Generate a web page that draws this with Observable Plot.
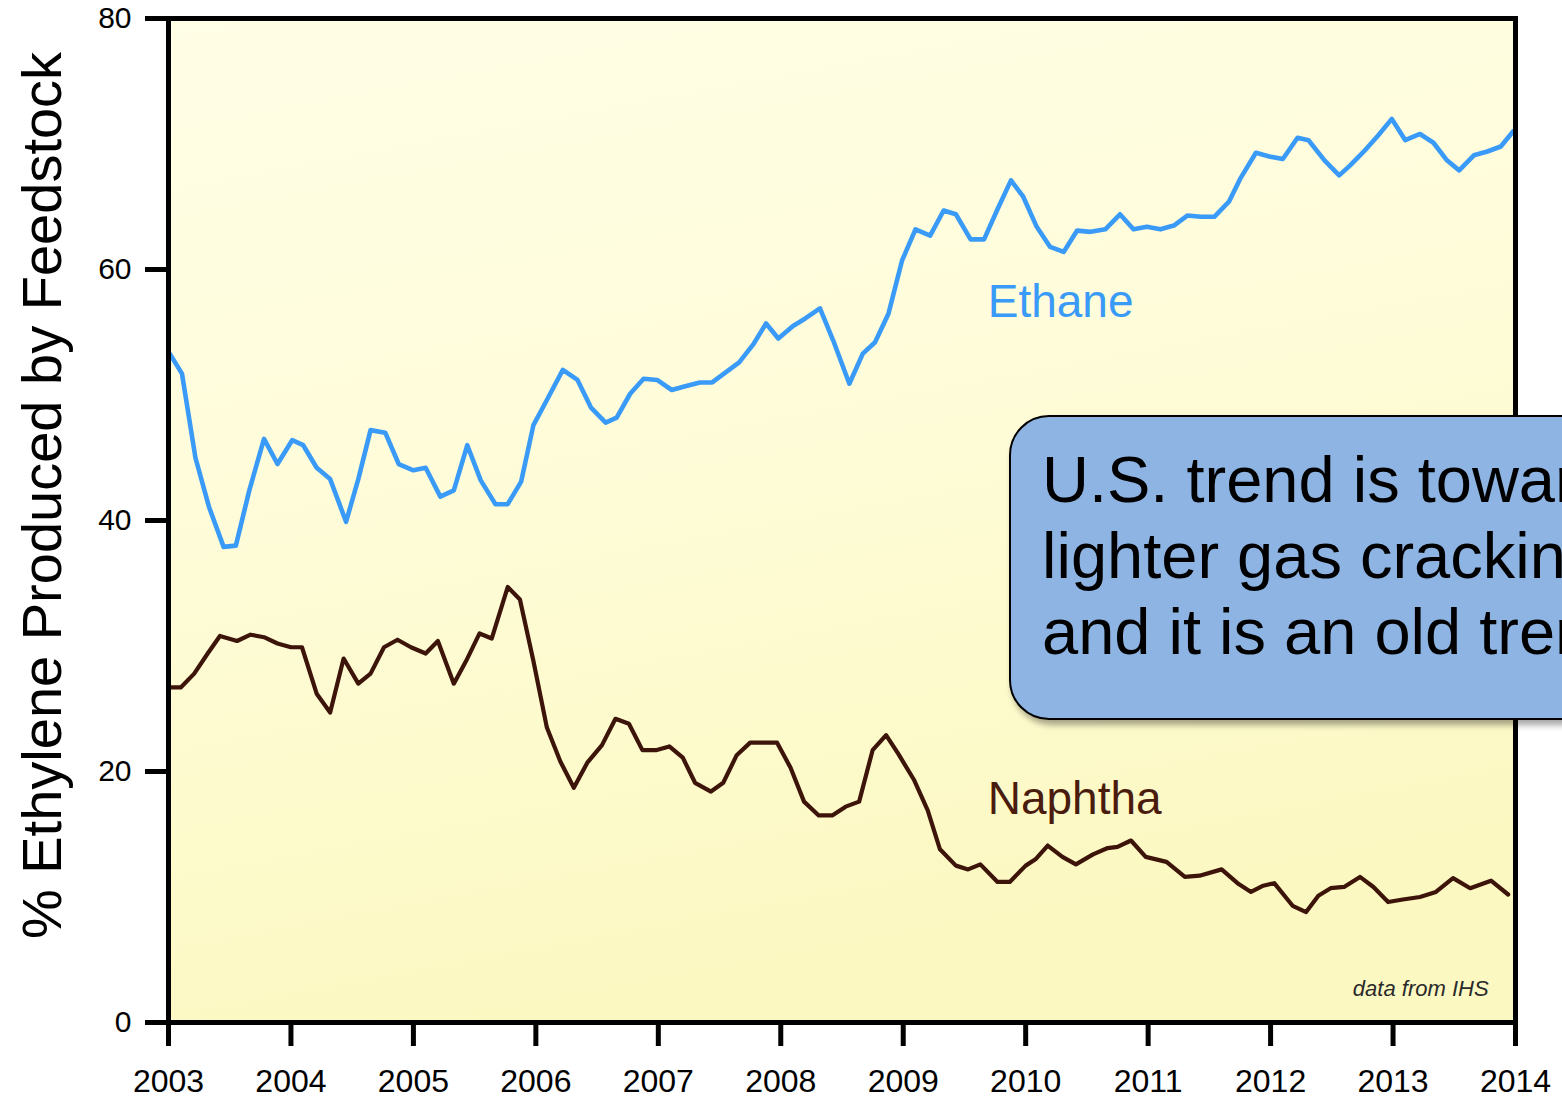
<!DOCTYPE html>
<html>
<head>
<meta charset="utf-8">
<script src="https://cdn.jsdelivr.net/npm/d3@7"></script>
<script src="https://cdn.jsdelivr.net/npm/@observablehq/plot@0.6"></script>
<style>
  html, body { margin: 0; padding: 0; background: #ffffff; overflow: hidden; width: 1562px; height: 1099px; }
  #wrap { position: relative; width: 1562px; height: 1099px; overflow: hidden; }
  #wrap svg { position: absolute; left: 0; top: 0; }
  #callout {
    position: absolute; left: 1009px; top: 415px; width: 720px; height: 305px;
    background: #8EB4E3; border: 2px solid #000; border-radius: 40px;
    box-shadow: 3px 5px 6px rgba(0,0,0,0.35);
    font-family: "Liberation Sans", Arial, sans-serif; font-size: 65px; line-height: 76px;
    color: #000; padding: 25px 0 0 31px; box-sizing: border-box; white-space: nowrap;
  }
</style>
</head>
<body>
<div id="wrap"></div>
<script>
// ---- data (decimal year, % of ethylene produced) ----
const ethaneYears = [2003.01,2003.11,2003.22,2003.33,2003.45,2003.55,2003.66,2003.78,2003.89,2004.01,2004.10,2004.21,2004.32,2004.45,2004.55,2004.65,2004.77,2004.88,2005.00,2005.10,2005.22,2005.33,2005.44,2005.55,2005.67,2005.77,2005.88,2005.98,2006.09,2006.22,2006.34,2006.45,2006.57,2006.66,2006.77,2006.88,2006.99,2007.11,2007.22,2007.34,2007.44,2007.55,2007.66,2007.78,2007.88,2007.98,2008.10,2008.20,2008.32,2008.43,2008.56,2008.67,2008.77,2008.88,2008.99,2009.10,2009.22,2009.33,2009.43,2009.55,2009.66,2009.77,2009.88,2009.98,2010.09,2010.20,2010.31,2010.42,2010.53,2010.65,2010.77,2010.88,2010.99,2011.10,2011.21,2011.32,2011.43,2011.54,2011.66,2011.75,2011.88,2011.99,2012.10,2012.22,2012.31,2012.44,2012.56,2012.65,2012.78,2012.88,2012.99,2013.10,2013.22,2013.33,2013.44,2013.54,2013.66,2013.77,2013.88,2013.98];
const ethaneValues = [53.3,51.7,45.0,41.1,37.9,38.0,42.4,46.5,44.5,46.4,46.0,44.2,43.3,39.9,43.3,47.2,47.0,44.5,44.0,44.2,41.9,42.4,46.0,43.2,41.3,41.3,43.1,47.6,49.6,52.0,51.2,49.0,47.8,48.2,50.1,51.3,51.2,50.4,50.7,51.0,51.0,51.8,52.6,54.1,55.7,54.5,55.5,56.1,56.9,54.3,50.9,53.3,54.2,56.5,60.7,63.2,62.7,64.7,64.4,62.4,62.4,64.8,67.1,65.8,63.4,61.8,61.4,63.1,63.0,63.2,64.4,63.2,63.4,63.2,63.5,64.3,64.2,64.2,65.4,67.2,69.3,69.0,68.8,70.5,70.3,68.7,67.5,68.3,69.6,70.7,72.0,70.3,70.8,70.1,68.7,67.9,69.1,69.4,69.8,71.0];

const naphthaYears = [2003.01,2003.10,2003.21,2003.32,2003.42,2003.56,2003.67,2003.78,2003.89,2004.00,2004.09,2004.21,2004.32,2004.43,2004.55,2004.65,2004.76,2004.87,2004.98,2005.10,2005.20,2005.33,2005.43,2005.54,2005.64,2005.77,2005.87,2005.98,2006.09,2006.20,2006.31,2006.42,2006.54,2006.65,2006.76,2006.87,2006.98,2007.09,2007.20,2007.30,2007.43,2007.53,2007.64,2007.75,2007.86,2007.97,2008.08,2008.19,2008.31,2008.42,2008.53,2008.64,2008.75,2008.86,2008.96,2009.09,2009.20,2009.30,2009.43,2009.53,2009.63,2009.77,2009.87,2010.00,2010.08,2010.18,2010.30,2010.41,2010.55,2010.67,2010.75,2010.86,2010.98,2011.15,2011.30,2011.42,2011.60,2011.73,2011.84,2011.94,2012.03,2012.18,2012.29,2012.39,2012.49,2012.60,2012.73,2012.84,2012.96,2013.08,2013.22,2013.35,2013.49,2013.63,2013.80,2013.94];
const naphthaValues = [26.7,26.7,27.8,29.4,30.8,30.4,30.9,30.7,30.2,29.9,29.9,26.2,24.7,29.0,27.0,27.8,29.9,30.5,29.9,29.4,30.4,27.0,28.8,31.0,30.6,34.7,33.7,28.8,23.5,20.8,18.7,20.7,22.1,24.2,23.8,21.7,21.7,22.0,21.1,19.1,18.4,19.1,21.3,22.3,22.3,22.3,20.3,17.6,16.5,16.5,17.2,17.6,21.7,22.9,21.4,19.3,16.9,13.8,12.5,12.2,12.6,11.2,11.2,12.5,13.0,14.1,13.2,12.6,13.4,13.9,14.0,14.5,13.2,12.8,11.6,11.7,12.2,11.1,10.4,10.9,11.1,9.3,8.8,10.1,10.7,10.8,11.6,10.8,9.6,9.8,10.0,10.4,11.5,10.7,11.3,10.2];

const xTicks = [2003,2004,2005,2006,2007,2008,2009,2010,2011,2012,2013,2014];
const yTicks = [0,20,40,60,80];
const seriesLabels = ["Ethane", "Naphtha"];
const yTitle = "% Ethylene Produced by Feedstock";
const sourceNote = "data from IHS";
const calloutLines = ["U.S. trend is towards", "lighter gas cracking", "and it is an old trend"];

// ---- tables built from the arrays ----
const ethane = ethaneYears.map((y, i) => ({year: y, value: ethaneValues[i]}));
const naphtha = naphthaYears.map((y, i) => ({year: y, value: naphthaValues[i]}));
const labelRows = [
  {name: seriesLabels[0], year: 2009.69, value: 56.2, color: "#3a9af7"},
  {name: seriesLabels[1], year: 2009.69, value: 16.65, color: "#4a1c0e"}
];

const font = "'Liberation Sans', Arial, Helvetica, sans-serif";

const chart = Plot.plot({
  width: 1562,
  height: 1099,
  marginLeft: 168,
  marginRight: 47,
  marginTop: 18,
  marginBottom: 77,
  style: {fontFamily: font, background: "transparent", overflow: "visible", color: "#000"},
  x: {domain: [2003, 2014], label: null},
  y: {domain: [0, 80], label: null},
  marks: [
    Plot.frame({fill: "url(#plotbg)", stroke: "none"}),
    Plot.line(naphtha, {x: "year", y: "value", stroke: "#3d1409", strokeWidth: 4.2, strokeLinejoin: "round", strokeLinecap: "round"}),
    Plot.line(ethane, {x: "year", y: "value", stroke: "#3a9af7", strokeWidth: 4.6, strokeLinejoin: "round", strokeLinecap: "round"}),
    Plot.text(labelRows, {x: "year", y: "value", text: "name", fill: "color", fontSize: 46, textAnchor: "start", lineAnchor: "bottom"}),
    Plot.text([sourceNote], {x: () => 2013.78, y: () => 2.15, text: d => d, fontSize: 22, fontStyle: "italic", fill: "#2a2a2a", textAnchor: "end", lineAnchor: "bottom"}),
    Plot.frame({stroke: "#000", strokeWidth: 5}),
    Plot.axisX({ticks: xTicks, tickFormat: d => String(d), tickSize: 24, tickPadding: 23, strokeWidth: 5, fontSize: 32, label: null}),
    Plot.axisY({ticks: yTicks, tickSize: 23, tickPadding: 14, strokeWidth: 5, fontSize: 30, label: null}),
    Plot.text([yTitle], {frameAnchor: "left", dx: -108, dy: -25, rotate: -90, text: d => d, fontSize: 56, textAnchor: "middle", lineAnchor: "bottom", fill: "#000"})
  ]
});

// background gradient for the plotting area
const ns = "http://www.w3.org/2000/svg";
const defs = document.createElementNS(ns, "defs");
defs.innerHTML = '<linearGradient id="plotbg" x1="0" y1="0" x2="0.25" y2="1">' +
  '<stop offset="0" stop-color="#fffee6"/>' +
  '<stop offset="0.5" stop-color="#fefcd8"/>' +
  '<stop offset="1" stop-color="#fcf8c2"/></linearGradient>';
chart.insertBefore(defs, chart.firstChild);

const wrap = document.getElementById("wrap");
wrap.appendChild(chart);

const callout = document.createElement("div");
callout.id = "callout";
callout.innerHTML = calloutLines.join("<br>");
wrap.appendChild(callout);
</script>
</body>
</html>
